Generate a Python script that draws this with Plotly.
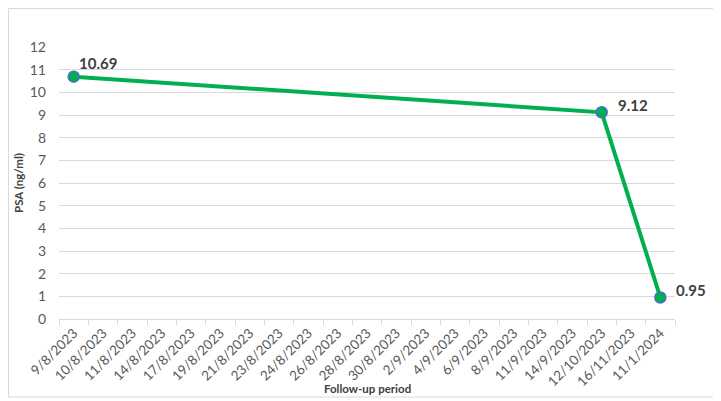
import plotly.graph_objects as go

dates = ["9/8/2023", "10/8/2023", "11/8/2023", "14/8/2023", "17/8/2023", "19/8/2023",
         "21/8/2023", "23/8/2023", "24/8/2023", "26/8/2023", "28/8/2023", "30/8/2023",
         "2/9/2023", "4/9/2023", "6/9/2023", "8/9/2023", "11/9/2023", "14/9/2023",
         "12/10/2023", "16/11/2023", "11/1/2024"]
psa_dates = ["9/8/2023", "12/10/2023", "11/1/2024"]
psa_values = [10.69, 9.12, 0.95]
label_shift = [(24, 14), (31, 7), (31, 7)]

FONT = "Lato"
fig = go.Figure()
fig.add_trace(go.Scatter(
    x=psa_dates, y=psa_values, mode="lines+markers",
    line=dict(color="#00B050", width=4),
    marker=dict(size=11, color="#00B050", line=dict(color="#4472C4", width=1.5)),
    cliponaxis=False, showlegend=False,
))
for d, v, (dx, dy) in zip(psa_dates, psa_values, label_shift):
    fig.add_annotation(x=d, y=v, text=f"<b>{v:.2f}</b>", showarrow=False,
                       xshift=dx, yshift=dy,
                       font=dict(family=FONT, size=15, color="#404040"))
fig.add_annotation(xref="paper", yref="paper", x=0.5, y=-0.2537, text="<b>Follow-up period</b>",
                   showarrow=False, xanchor="center", yanchor="middle",
                   font=dict(family=FONT, size=11.5, color="#404040"))
fig.add_annotation(xref="paper", yref="paper", x=-0.0666, y=0.5, text="<b>PSA (ng/ml)</b>",
                   showarrow=False, xanchor="center", yanchor="middle", textangle=-90,
                   font=dict(family=FONT, size=11.5, color="#404040"))
fig.update_layout(
    width=713, height=393,
    margin=dict(l=51, r=46, t=39, b=82),
    paper_bgcolor="white", plot_bgcolor="white",
    font=dict(family=FONT, color="#595959"),
    xaxis=dict(
        type="category", categoryorder="array", categoryarray=dates,
        range=[-0.5, len(dates) - 0.5],
        tickangle=-45, tickfont=dict(size=13.5, color="#595959"), automargin=False,
        tickson="boundaries", ticks="outside", ticklen=5, tickcolor="#D9D9D9",
        showline=True, linecolor="#D9D9D9", linewidth=1, showgrid=False,
    ),
    yaxis=dict(
        range=[0, 12], dtick=1, tickfont=dict(size=14, color="#595959"), automargin=False,
        showgrid=True, gridcolor="#D9D9D9", gridwidth=1, zeroline=False,
        ticks="", ticklabelstandoff=12,
    ),
    shapes=[dict(type="rect", xref="paper", yref="paper", x0=-0.082, x1=1.065, y0=-0.2868, y1=1.1415,
                 line=dict(color="#D9D9D9", width=1), layer="below")],
)
fig.write_html("out.html")
